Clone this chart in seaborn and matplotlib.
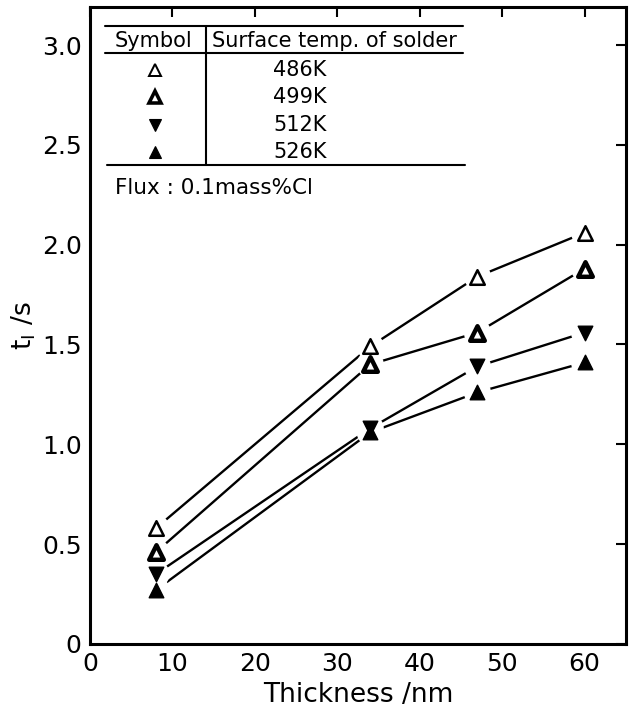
#!/usr/bin/env python3

# t_I vs. oxide thickness for several solder surface temperatures

import matplotlib
matplotlib.use("Agg")
import matplotlib.pyplot as plt
import seaborn as sns
import pandas as pd
from matplotlib.lines import Line2D

thickness = [8, 34, 47, 60]
temps = ["486K", "499K", "512K", "526K"]
t_486 = [0.58, 1.49, 1.84, 2.06]
t_499 = [0.46, 1.40, 1.56, 1.88]
t_512 = [0.35, 1.08, 1.39, 1.56]
t_526 = [0.27, 1.06, 1.26, 1.41]

x_ticks = [0, 10, 20, 30, 40, 50, 60]
x_labels = ["0", "10", "20", "30", "40", "50", "60"]
y_ticks = [0, 0.5, 1.0, 1.5, 2.0, 2.5, 3.0]
y_labels = ["0", "0.5", "1.0", "1.5", "2.0", "2.5", "3.0"]

# marker styles per series: (marker, face, edge width)
styles = {
    "486K": ("^", "white", 1.8),
    "499K": ("^", "white", 3.2),
    "512K": ("v", "black", 1.0),
    "526K": ("^", "black", 1.0),
}


def main():
    sns.set_style("white")
    plt.rcParams["font.family"] = ["DejaVu Sans"]
    for k in ["text.color", "axes.labelcolor", "xtick.color", "ytick.color"]:
        plt.rcParams[k] = "black"

    df = pd.DataFrame({
        "Thickness": thickness * 4,
        "t": t_486 + t_499 + t_512 + t_526,
        "Temp": [s for s in temps for _ in thickness],
    })

    fig = plt.figure(figsize=(6.34, 7.16), dpi=100)
    ax = fig.add_axes([0.142, 0.1006, 0.845, 0.8895])

    sns.lineplot(data=df, x="Thickness", y="t", hue="Temp",
                 palette=["black"] * 4, linewidth=1.7, legend=False, ax=ax)
    # white masks so the lines stop short of the symbols
    sns.scatterplot(data=df, x="Thickness", y="t", color="white", s=380,
                    marker="o", edgecolor="none", legend=False, ax=ax, zorder=3)
    for s in temps:
        m, fc, ew = styles[s]
        sub = df[df["Temp"] == s]
        sns.scatterplot(data=sub, x="Thickness", y="t", marker=m, s=110,
                        facecolor=fc, edgecolor="black", linewidth=ew,
                        legend=False, ax=ax, zorder=4)

    ax.set_xlim(0, 65)
    ax.set_ylim(0, 3.19)
    ax.set_xticks(x_ticks)
    ax.set_xticklabels(x_labels)
    ax.set_yticks(y_ticks)
    ax.set_yticklabels(y_labels)
    ax.tick_params(direction="in", length=7, width=1.5, top=True, right=True,
                   labelsize=18, pad=6, colors="black")
    for sp in ax.spines.values():
        sp.set_linewidth(2.2)
        sp.set_color("black")
    ax.set_xlabel("Thickness /nm", fontsize=19, labelpad=4)
    ax.set_ylabel(r"t$_\mathrm{I}$ /s", fontsize=19, labelpad=3)

    # legend table in the upper left
    tr = ax.transAxes
    for y, x0, x1 in [(0.970, 0.028, 0.696), (0.928, 0.028, 0.696),
                      (0.752, 0.032, 0.700)]:
        ax.add_line(Line2D([x0, x1], [y, y], transform=tr, color="black",
                           lw=1.5, zorder=5))
    ax.add_line(Line2D([0.216, 0.216], [0.970, 0.752], transform=tr,
                       color="black", lw=1.5, zorder=5))
    ax.text(0.118, 0.946, "Symbol", transform=tr, ha="center", va="center",
            fontsize=15)
    ax.text(0.228, 0.946, "Surface temp. of solder", transform=tr,
            ha="left", va="center", fontsize=15)
    for s, y in zip(temps, [0.901, 0.859, 0.815, 0.772]):
        m, fc, ew = styles[s]
        ax.plot([0.121], [y], transform=tr, marker=m, ms=9,
                mfc=fc, mec="black", mew=ew * 0.8, ls="none", zorder=5)
        ax.text(0.392, y, s, transform=tr, ha="center", va="center",
                fontsize=15)
    ax.text(0.047, 0.716, "Flux : 0.1mass%Cl", transform=tr, ha="left",
            va="center", fontsize=15.5)

    fig.savefig("out.png", dpi=100)


if __name__ == "__main__":
    main()
